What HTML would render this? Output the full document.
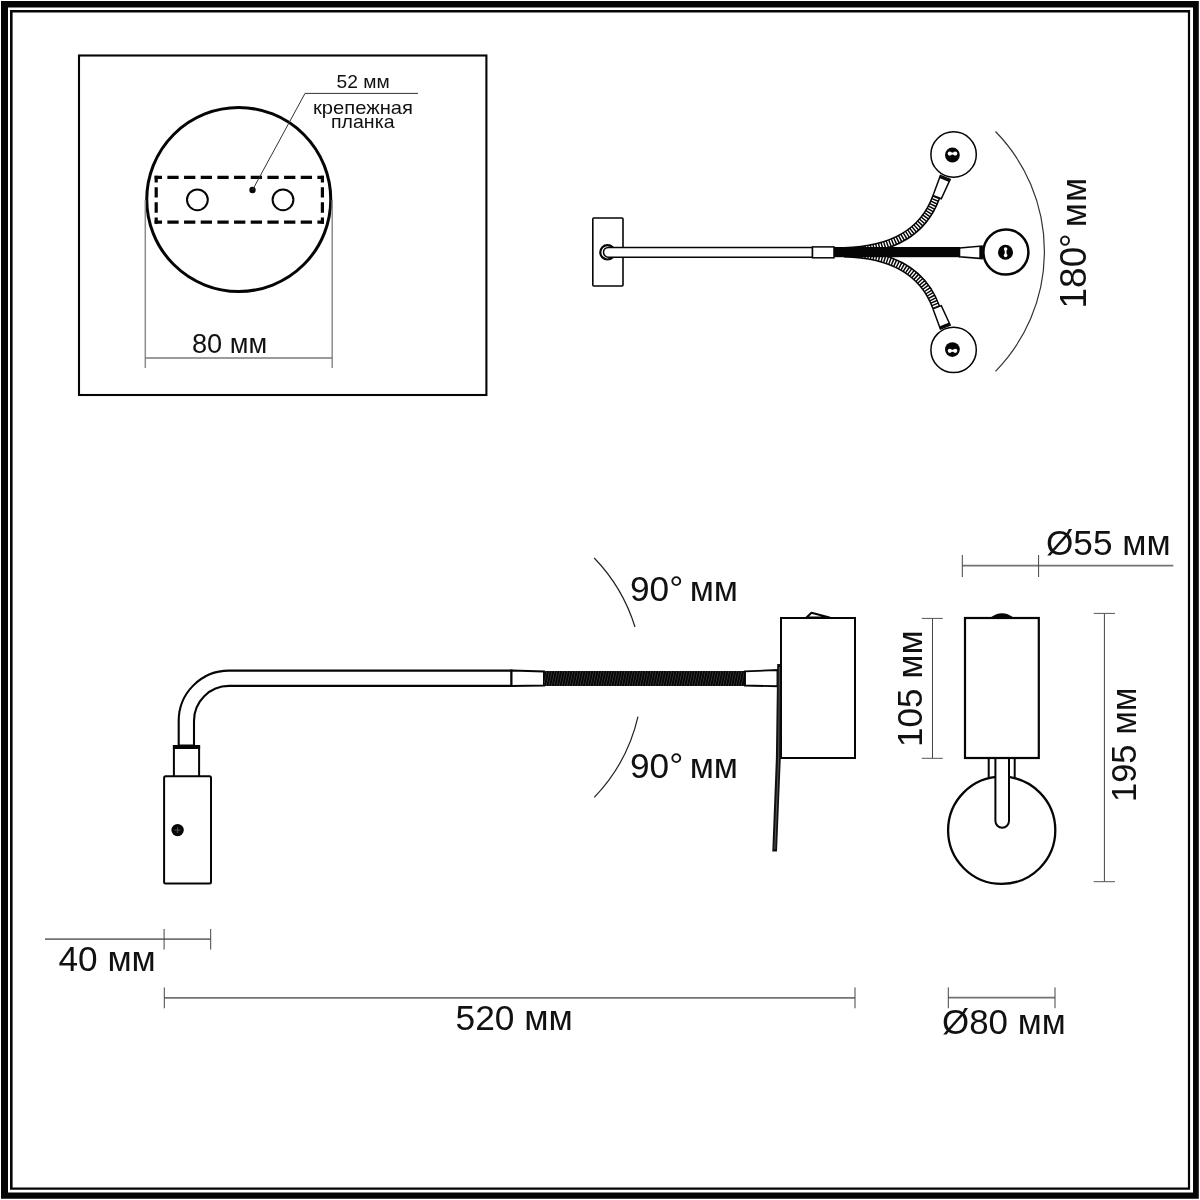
<!DOCTYPE html>
<html lang="ru">
<head>
<meta charset="utf-8">
<title>Схема</title>
<style>
html,body{margin:0;padding:0;background:#fff;}
body{width:1200px;height:1200px;overflow:hidden;}
svg{display:block;filter:grayscale(1);}
text{font-family:"Liberation Sans",sans-serif;fill:#111;}
.k{stroke:#050505;fill:none;}
.w{stroke:#050505;fill:#fff;}
.d{stroke:#7a7a7a;stroke-width:1.5;fill:none;}
.dh{stroke:#737373;stroke-width:1.8;fill:none;}
.dv{stroke:#444;stroke-width:1;fill:none;}
.dt{stroke:#555;stroke-width:1;fill:none;}
</style>
</head>
<body>
<svg width="1200" height="1200" viewBox="0 0 1200 1200">
<defs>
<pattern id="hatch" width="2.6" height="16" patternUnits="userSpaceOnUse" patternTransform="skewX(-12)">
<rect width="2.6" height="16" fill="#050505"/>
<rect x="0" width="0.6" height="16" fill="#484848"/>
</pattern>
</defs>
<rect width="1200" height="1200" fill="#fff"/>
<!-- FRAME -->
<g id="frame">
<path fill="#050505" fill-rule="evenodd" d="M1,1 H1198.8 V1198.8 H1 Z M8,7.6 V1192.6 H1193 V7.6 Z"/>
<path fill="#050505" fill-rule="evenodd" d="M10,10 H1190.1 V1189.7 H10 Z M12.6,12.5 V1187.5 H1187.9 V12.5 Z"/>
</g>
<!-- INSET -->
<g id="inset">
<rect x="79" y="55.5" width="407.4" height="339.5" class="k" stroke-width="2.1"/>
<circle cx="238.75" cy="199.5" r="92" class="k" stroke-width="3"/>
<!-- dashed plate -->
<g class="k" stroke-width="3.2">
<line x1="154.6" y1="177.3" x2="324" y2="177.3" stroke-dasharray="11.3 5.37" stroke-dashoffset="3.9"/>
<line x1="154.6" y1="222.2" x2="324" y2="222.2" stroke-dasharray="11.3 5.37" stroke-dashoffset="3.9"/>
<line x1="156.2" y1="175.7" x2="156.2" y2="223.8" stroke-dasharray="10.4 4.7" stroke-dashoffset="3.6"/>
<line x1="322.4" y1="175.7" x2="322.4" y2="223.8" stroke-dasharray="10.4 4.7" stroke-dashoffset="3.6"/>
</g>
<circle cx="197.4" cy="199.8" r="10.4" class="k" stroke-width="2"/>
<circle cx="283" cy="199.8" r="10.4" class="k" stroke-width="2"/>
<circle cx="252.5" cy="190" r="3.2" fill="#050505"/>
<polyline points="252.5,190 305,93.4 418,93.4" fill="none" stroke="#333" stroke-width="1"/>
<text x="336.6" y="88" font-size="19.2">52 мм</text>
<text x="313" y="114" font-size="19" textLength="100" lengthAdjust="spacingAndGlyphs">крепежная</text>
<text x="331" y="128" font-size="19" textLength="63.5" lengthAdjust="spacingAndGlyphs">планка</text>
<!-- dimension 80 -->
<line x1="145.3" y1="200" x2="145.3" y2="368" class="d" style="stroke:#8c8c8c"/>
<line x1="332.2" y1="200" x2="332.2" y2="368" class="d" style="stroke:#8c8c8c"/>
<line x1="145.3" y1="358" x2="332.2" y2="358" class="d"/>
<text x="192" y="352.8" font-size="27.2">80 мм</text>
</g>
<!-- TOP VIEW -->
<g id="topview">
<rect x="592.8" y="218" width="30.2" height="68" rx="1" class="w" stroke-width="1.6"/>
<circle cx="607.5" cy="252.3" r="7.2" class="w" stroke-width="2.2"/>
<path d="M812.5,247.4 H608.4 A4.9,4.9 0 0 0 608.4,257.2 H812.5 Z" class="w" stroke-width="1.5"/>
<rect x="812.5" y="246.9" width="21.5" height="10.9" class="w" stroke-width="1.5"/>
<!-- flex curves -->
<g id="flexes">
<path id="fu" d="M844,251.2 C872,250.6 919.3,243.9 936.2,197" fill="none" stroke="#050505" stroke-width="8.6"/>
<path d="M844,251.2 C872,250.6 919.3,243.9 936.2,197" fill="none" stroke="#fff" stroke-width="5.6" stroke-dasharray="1.35 1.45"/>
<path d="M844,253.2 C872,253.8 919.3,260.5 936.2,307.4" fill="none" stroke="#050505" stroke-width="8.6"/>
<path d="M844,253.2 C872,253.8 919.3,260.5 936.2,307.4" fill="none" stroke="#fff" stroke-width="5.6" stroke-dasharray="1.35 1.45"/>
</g>
<rect x="834" y="247" width="126" height="10.2" fill="#050505"/>
<!-- collars to heads -->
<polygon points="933,195.5 941.3,198.8 950.2,179.4 940.4,175.4" class="w" stroke-width="1.5"/>
<line x1="939.8" y1="176.8" x2="949.6" y2="180.8" class="k" stroke-width="2.4"/>
<polygon points="933,308.9 941.3,305.6 950.2,325 940.4,329" class="w" stroke-width="1.5"/>
<line x1="939.8" y1="327.6" x2="949.6" y2="323.6" class="k" stroke-width="2.4"/>
<polygon points="959.5,248 982,246 982,258.6 959.5,256.8" class="w" stroke-width="1.6"/>
<line x1="981" y1="246" x2="981" y2="258.6" class="k" stroke-width="3.4"/>
<!-- heads -->
<circle cx="953.6" cy="154.5" r="22.7" class="w" stroke-width="1.5"/>
<circle cx="953.6" cy="349.9" r="22.7" class="w" stroke-width="1.5"/>
<circle cx="1005.9" cy="252.1" r="22.5" class="w" stroke-width="2.5"/>
<!-- screws -->
<circle cx="952.4" cy="155" r="7.4" fill="#050505"/>
<path d="M950,153.6 h5" stroke="#fff" stroke-width="2" fill="none"/>
<circle cx="949.8" cy="153.6" r="2.1" fill="#fff"/><circle cx="955.2" cy="153.6" r="2.1" fill="#fff"/>
<circle cx="952.4" cy="349.6" r="7.4" fill="#050505"/>
<path d="M950,350.8 h5" stroke="#fff" stroke-width="2" fill="none"/>
<circle cx="949.8" cy="350.8" r="2.1" fill="#fff"/><circle cx="955.2" cy="350.8" r="2.1" fill="#fff"/>
<circle cx="1005.5" cy="252.3" r="7.5" fill="#050505"/>
<path d="M1005.6,249.2 v6" stroke="#fff" stroke-width="1.8" fill="none"/>
<circle cx="1005.6" cy="249" r="1.8" fill="#fff"/><circle cx="1005.6" cy="255.4" r="1.8" fill="#fff"/>
<!-- arc -->
<path d="M995.5,131.5 A171.4,171.4 0 0 1 995.5,371.3" fill="none" stroke="#333" stroke-width="1.2"/>
<text transform="translate(1086.4,308.5) rotate(-90)" font-size="37">180<tspan dx="-1.3">°</tspan><tspan dx="-5" font-size="35" letter-spacing="1.2"> мм</tspan></text>
</g>
<!-- SIDE VIEW -->
<g id="side">
<!-- arm tube with bend -->
<path d="M511.5,670.6 H229 A50.3,50.3 0 0 0 178.7,721 V745.5 H194 V721 A35,35 0 0 1 229,685.9 H511.5 Z" class="w" stroke-width="2.1"/>
<!-- neck -->
<rect x="173.9" y="746" width="25.2" height="31" class="w" stroke-width="2"/>
<rect x="173.9" y="746" width="25.2" height="2" fill="#050505" stroke="#050505" stroke-width="2"/>
<!-- head body -->
<rect x="164.1" y="776.2" width="46.9" height="107.3" rx="1.5" class="w" stroke-width="2"/>
<circle cx="177.6" cy="830.1" r="6.2" fill="#050505"/>
<path d="M174.6,830.1 h6 M177.6,827.1 v6" stroke="#666" stroke-width="0.8" fill="none"/>
<!-- collar left -->
<polygon points="511.5,670.6 544,671.4 544,685.6 511.5,686" class="w" stroke-width="2"/>
<!-- flex -->
<rect x="544" y="671" width="201" height="15" fill="url(#hatch)"/>
<!-- collar right -->
<polygon points="745,671.4 777.5,670 777.5,686.3 745,685.5" class="w" stroke-width="1.9"/>
<!-- wall box -->
<rect x="781" y="618" width="74" height="140" class="w" stroke-width="2"/>
<polygon points="806.5,617.5 811.5,612.8 829.5,617.5" class="w" stroke-width="2" stroke-linejoin="round"/>
<!-- plate -->
<polygon points="777.2,664 780.3,664 780.8,758 777,851.5 772.3,851.5 775.9,758" fill="#111"/>
<polyline points="779.4,667 778.6,758 774.8,849" fill="none" stroke="#8a8a8a" stroke-width="0.6"/>
<!-- angle arcs -->
<path d="M594.2,558 A172,172 0 0 1 635,627" fill="none" stroke="#222" stroke-width="1.2"/>
<path d="M638,716.7 A172,172 0 0 1 594.3,797.3" fill="none" stroke="#222" stroke-width="1.2"/>
<text x="630" y="600.8" font-size="35.2">90°<tspan dx="-3.3"> мм</tspan></text>
<text x="630" y="778.3" font-size="35.2">90°<tspan dx="-3.3"> мм</tspan></text>
<!-- dims -->
<line x1="45" y1="939.1" x2="210.7" y2="939.1" class="dh"/>
<line x1="164.1" y1="929" x2="164.1" y2="949.6" class="dv"/>
<line x1="210.7" y1="929" x2="210.7" y2="949.6" class="dv"/>
<text x="58.5" y="970.8" font-size="35.2">40 мм</text>
<line x1="164.3" y1="997.8" x2="855" y2="997.8" class="dh"/>
<line x1="164.3" y1="987.5" x2="164.3" y2="1008.3" class="dv"/>
<line x1="855" y1="987.4" x2="855" y2="1008.3" class="dv"/>
<text x="455.5" y="1029.8" font-size="35.3">520 мм</text>
</g>
<!-- FRONT VIEW -->
<g id="front">
<circle cx="1001.7" cy="830.3" r="53.6" class="w" stroke-width="2.3"/>
<line x1="988.7" y1="758" x2="988.7" y2="779" class="k" stroke-width="2"/>
<line x1="1014.7" y1="758" x2="1014.7" y2="779" class="k" stroke-width="2"/>
<path d="M995.4,758 V821 A6.8,6.8 0 0 0 1009,821 V758 Z" class="w" stroke-width="2"/>
<rect x="965" y="618" width="73.8" height="140" class="w" stroke-width="2.2"/>
<path d="M990.5,617.5 Q1002,609 1013.5,617.5 Z" fill="#050505"/>
<!-- dims -->
<line x1="962.3" y1="565.6" x2="1173.3" y2="565.6" class="dh"/>
<line x1="962.3" y1="555" x2="962.3" y2="577" class="dv"/>
<line x1="1038.6" y1="555" x2="1038.6" y2="577" class="dv"/>
<text x="1046" y="555" font-size="35.2">Ø55 мм</text>
<line x1="932.5" y1="618.4" x2="932.5" y2="758.3" class="dv"/>
<line x1="921.8" y1="618.4" x2="942.8" y2="618.4" class="dt"/>
<line x1="921.8" y1="758.3" x2="942.8" y2="758.3" class="dt"/>
<text transform="translate(922.2,747) rotate(-90)" font-size="35.1">105 мм</text>
<line x1="1104.4" y1="613.4" x2="1104.4" y2="881.7" class="dv"/>
<line x1="1093.7" y1="613.4" x2="1115" y2="613.4" class="dt"/>
<line x1="1093.7" y1="881.7" x2="1115" y2="881.7" class="dt"/>
<text transform="translate(1136,802) rotate(-90)" font-size="34.5">195 мм</text>
<line x1="948.3" y1="997.6" x2="1055" y2="997.6" class="dh"/>
<line x1="948.3" y1="987.4" x2="948.3" y2="1008.2" class="dv"/>
<line x1="1055" y1="987.4" x2="1055" y2="1008.2" class="dv"/>
<text x="942" y="1033.5" font-size="34.9">Ø80 мм</text>
</g>
</svg>
</body>
</html>
